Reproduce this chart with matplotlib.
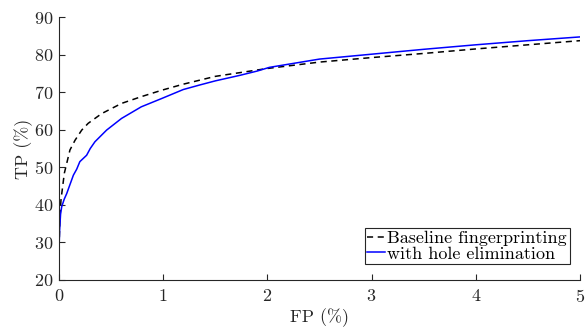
import matplotlib
matplotlib.use("Agg")
import matplotlib.pyplot as plt

# ROC-style curves
base_fp = [0, 0.002, 0.008, 0.019, 0.051, 0.105, 0.154, 0.218, 0.28, 0.41, 0.6, 0.79, 0.985, 1.19, 1.5, 2.0, 2.5, 3.0, 3.5, 4.0, 4.5, 5.0]
base_tp = [20, 30, 36, 41.3, 48.4, 54.6, 57.2, 59.9, 61.7, 64.3, 67.0, 68.8, 70.5, 72.1, 74.2, 76.3, 78.0, 79.2, 80.3, 81.5, 82.6, 83.7]

hole_fp = [0, 0.002, 0.006, 0.015, 0.026, 0.05, 0.074, 0.1, 0.138, 0.17, 0.2, 0.265, 0.3, 0.345, 0.457, 0.6, 0.79, 0.985, 1.193, 1.35, 1.5, 1.74, 1.9, 2.02, 2.5, 3.0, 3.5, 4.0, 4.5, 5.0]
hole_tp = [20, 30, 33.3, 37.5, 39.5, 41.5, 43.0, 45.0, 47.9, 49.5, 51.5, 53.2, 55.0, 56.8, 59.9, 63.0, 66.1, 68.3, 70.7, 71.9, 73.0, 74.5, 75.6, 76.6, 78.8, 80.1, 81.4, 82.6, 83.7, 84.7]

plt.rcParams['font.family'] = ['cmr10']
plt.rcParams['axes.formatter.use_mathtext'] = True

fig = plt.figure(figsize=(5.87, 3.29), dpi=100)
ax = fig.add_axes([59/587, 1 - 280/329, (580 - 59)/587, (280 - 17)/329])

ax.plot(base_fp, base_tp, 'k--', lw=1.1, dashes=(4, 3), label='Baseline fingerprinting')
ax.plot(hole_fp, hole_tp, color='#0000ff', lw=1.1, label='with hole elimination')

ax.set_xlim(0, 5)
ax.set_ylim(20, 90)
ax.set_xticks([0, 1, 2, 3, 4, 5])
ax.set_yticks(range(20, 91, 10))
ax.spines['top'].set_visible(False)
ax.spines['right'].set_visible(False)
for s in ax.spines.values():
    s.set_color('#262626')
ax.tick_params(direction='in', length=4, labelsize=13, colors='#262626')
ax.tick_params(axis='x', pad=6)
ax.tick_params(axis='y', pad=4)
ax.set_xlabel('FP (%)', fontsize=13, labelpad=2, color='#262626')
ax.set_ylabel('TP (%)', fontsize=13, labelpad=1, color='#262626')

leg = ax.legend(loc='lower right', bbox_to_anchor=(0.98, 0.06), fontsize=13,
                handlelength=1.0, handletextpad=0.1, borderpad=0.15,
                labelspacing=0.0, borderaxespad=0, fancybox=False, framealpha=1)
leg.get_frame().set_edgecolor('#262626')
leg.get_frame().set_linewidth(0.8)

fig.savefig('out.png', dpi=100)
